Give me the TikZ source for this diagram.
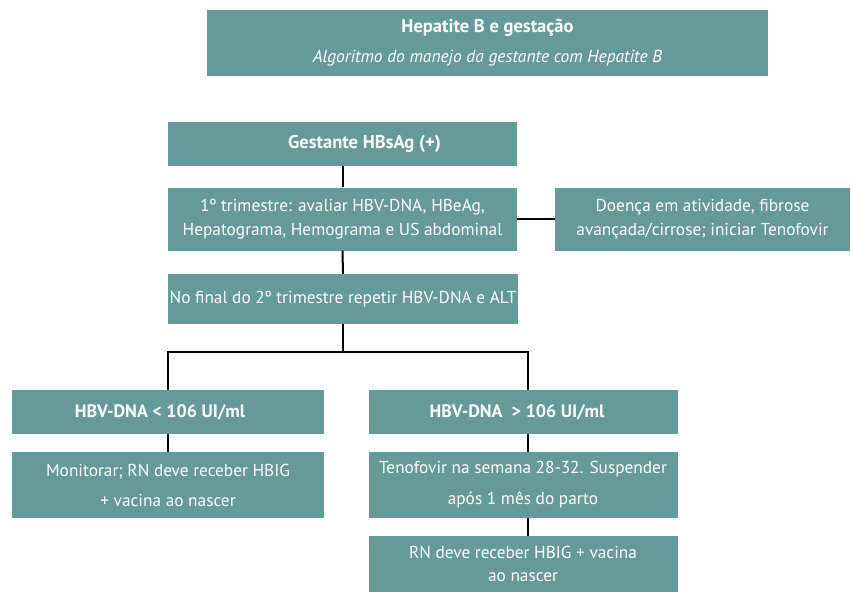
\documentclass[tikz,border=0pt]{standalone}
\usepackage{fontspec}
\setmainfont{PT Sans}
\usetikzlibrary{calc}
\definecolor{teal1}{HTML}{659A98}
\tikzset{
  box/.style={fill=teal1, text=white, align=center, inner sep=0pt, font=\fontsize{17.3}{24}\selectfont},
  txt/.style={text=white, inner sep=0pt},
  link/.style={draw=black, line width=2pt},
}
\begin{document}
\begin{tikzpicture}[x=1pt,y=-1pt]
\useasboundingbox[fill=white] (0,0) rectangle (852,592);
\node[box, minimum width=561pt, minimum height=66pt] (title) at (487.5,43) {};
\node[txt, font=\bfseries\fontsize{18.5}{20}\selectfont] (t1) at (487.5,28) {Hepatite B e gestação};
\node[txt, font=\itshape\fontsize{17.5}{20}\selectfont] (t2) at (487.5,58) {Algoritmo do manejo da gestante com Hepatite B};

\node[box, minimum width=349pt, minimum height=44pt] (gest) at (342.5,144) {};
\node[txt, font=\bfseries\fontsize{18.5}{20}\selectfont] (gestt) at ($(gest.center)+(22,0)$) {Gestante HBsAg (+)};
\node[box, minimum width=349pt, minimum height=63pt] (tri) at (342.5,219) {1º trimestre: avaliar HBV-DNA, HBeAg,\\Hepatograma, Hemograma e US abdominal};
\node[box, minimum width=295pt, minimum height=63pt] (doen) at (702.5,219) {Doença em atividade, fibrose\\avançada/cirrose; iniciar Tenofovir};
\node[box, minimum width=350pt, minimum height=50pt] (fin) at (343,299) {No final do 2º trimestre repetir HBV-DNA e ALT};

\node[box, minimum width=312pt, minimum height=44pt] (low) at (168,412) {};
\node[txt, font=\bfseries\fontsize{18}{20}\selectfont] (lowt) at ($(low.center)+(-8,0)$) {HBV-DNA < 106 UI/ml};
\node[box, minimum width=312pt, minimum height=66pt, font=\fontsize{17.3}{30}\selectfont] (mon) at (168,485) {Monitorar; RN deve receber HBIG\\+ vacina ao nascer};
\node[box, minimum width=309pt, minimum height=44pt] (high) at (523,412) {};
\node[txt, font=\bfseries\fontsize{18}{20}\selectfont] (hight) at ($(high.center)+(-6,0)$) {HBV-DNA \ > 106 UI/ml};
\node[box, minimum width=309pt, minimum height=66pt, font=\fontsize{17.3}{31}\selectfont] (ten) at (523,485) {Tenofovir na semana 28-32. Suspender\\após 1 mês do parto};
\node[box, minimum width=309pt, minimum height=56pt, font=\fontsize{17.3}{23}\selectfont] (rn) at (523,564) {RN deve receber HBIG + vacina\\ao nascer};

\coordinate (j) at ($(fin.south)+(0,28)$);
\coordinate (ht) at ($(high.north)+(5,0)$);
\coordinate (hb) at ($(high.south)+(5,0)$);
\coordinate (tt) at ($(ten.north)+(5,0)$);
\coordinate (tb) at ($(ten.south)+(5,0)$);
\coordinate (rt) at ($(rn.north)+(5,0)$);
\draw[link] (gest.south) -- (tri.north);
\draw[link] (tri.east) -- (doen.west);
\draw[link] (tri.south) -- (fin.north);
\draw[link] (fin.south) -- (j);
\draw[link] (low.north) |- (j) -| (ht);
\draw[link] (low.south) -- (mon.north);
\draw[link] (hb) -- (tt);
\draw[link] (tb) -- (rt);
\end{tikzpicture}
\end{document}
